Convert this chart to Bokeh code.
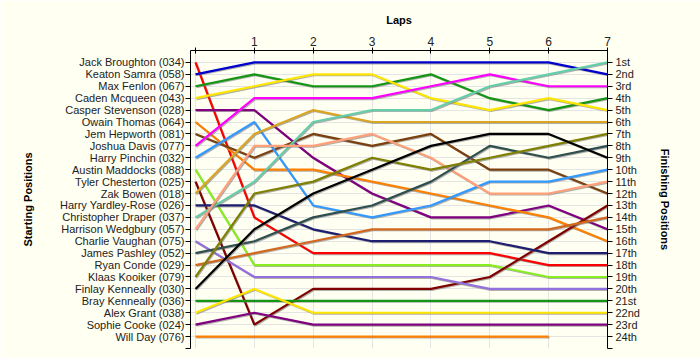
import math
from bokeh.plotting import figure
from bokeh.models import FixedTicker, LinearAxis, Range1d
from bokeh.embed import file_html
from bokeh.resources import INLINE

laps = [0, 1, 2, 3, 4, 5, 6, 7]
lap_labels = {0: "", 1: "1", 2: "2", 3: "3", 4: "4", 5: "5", 6: "6", 7: "7"}

drivers = [
    "Jack Broughton (034)", "Keaton Samra (058)", "Max Fenlon (067)", "Caden Mcqueen (043)",
    "Casper Stevenson (028)", "Owain Thomas (064)", "Jem Hepworth (081)", "Joshua Davis (077)",
    "Harry Pinchin (032)", "Austin Maddocks (088)", "Tyler Chesterton (025)", "Zak Bowen (018)",
    "Harry Yardley-Rose (026)", "Christopher Draper (037)", "Harrison Wedgbury (057)",
    "Charlie Vaughan (075)", "James Pashley (052)", "Ryan Conde (029)", "Klaas Kooiker (079)",
    "Finlay Kenneally (030)", "Bray Kenneally (036)", "Alex Grant (038)", "Sophie Cooke (024)",
    "Will Day (076)",
]

finish_labels = ["1st", "2nd", "3rd", "4th", "5th", "6th", "7th", "8th", "9th", "10th",
                 "11th", "12th", "13th", "14th", "15th", "16th", "17th", "18th", "19th",
                 "20th", "21st", "22nd", "23rd", "24th"]

# positions at lap 0 (start) .. lap 7 ; None = did not finish the lap
jack_broughton = [1, 14, 17, 17, 17, 17, 18, 18]
keaton_samra = [2, 1, 1, 1, 1, 1, 1, 2]
max_fenlon = [3, 2, 3, 3, 2, 4, 5, 4]
caden_mcqueen = [4, 3, 2, 2, 4, 5, 4, 5]
casper_stevenson = [5, 5, 9, 12, 14, 14, 13, 15]
owain_thomas = [6, 10, 10, 11, 12, 13, 14, 16]
jem_hepworth = [7, 9, 7, 8, 7, 10, 10, 12]
joshua_davis = [8, 4, 4, 4, 3, 2, 3, 3]
harry_pinchin = [9, 6, 13, 14, 13, 11, 11, 10]
austin_maddocks = [10, 18, 18, 18, 18, 18, 19, 19]
tyler_chesterton = [11, 23, 20, 20, 20, 19, 16, 13]
zak_bowen = [12, 7, 5, 6, 6, 6, 6, 6]
harry_yardley_rose = [13, 13, 15, 16, 16, 16, 17, 17]
christopher_draper = [14, 11, 6, 5, 5, 3, 2, 1]
harrison_wedgbury = [15, 8, 8, 7, 9, 12, 12, 11]
charlie_vaughan = [16, 19, 19, 19, 19, 20, 20, 20]
james_pashley = [17, 16, 14, 13, 11, 8, 9, 8]
ryan_conde = [18, 17, 16, 15, 15, 15, 15, 14]
klaas_kooiker = [19, 12, 11, 9, 10, 9, 8, 7]
finlay_kenneally = [20, 15, 12, 10, 8, 7, 7, 9]
bray_kenneally = [21, 21, 21, 21, 21, 21, 21, 21]
alex_grant = [22, 20, 22, 22, 22, 22, 22, 22]
sophie_cooke = [23, 22, 23, 23, 23, 23, 23, 23]
will_day = [24, 24, 24, 24, 24, 24, 24, None]

series = [jack_broughton, keaton_samra, max_fenlon, caden_mcqueen, casper_stevenson,
          owain_thomas, jem_hepworth, joshua_davis, harry_pinchin, austin_maddocks,
          tyler_chesterton, zak_bowen, harry_yardley_rose, christopher_draper,
          harrison_wedgbury, charlie_vaughan, james_pashley, ryan_conde, klaas_kooiker,
          finlay_kenneally, bray_kenneally, alex_grant, sophie_cooke, will_day]

colors = ["#ff0000", "#0000cc", "#149614", "#ffe600", "#800080", "#ff8000", "#7a4010",
          "#ff00ff", "#3399ff", "#88ee22", "#800000", "#daa520", "#1e1e70", "#66cdaa",
          "#ffa07a", "#9370db", "#2f4f4f", "#d2691e", "#808000", "#000000",
          "#149614", "#ffe600", "#800080", "#ff8000"]

BG = "#fffff2"
FONT = "Liberation Sans"

p = figure(width=700, height=358,
           x_range=Range1d(-0.085, 7), y_range=Range1d(25, 0),
           x_axis_location="above", y_axis_location="left",
           output_backend="svg", toolbar_location=None,
           min_border_left=190, min_border_right=93,
           min_border_top=50, min_border_bottom=10)
p.background_fill_color = BG
p.border_fill_color = BG
p.outline_line_color = None

# grid
p.xgrid.ticker = FixedTicker(ticks=laps)
p.ygrid.ticker = FixedTicker(ticks=list(range(1, 25)))
p.xgrid.grid_line_color = "#e4e4e4"
p.ygrid.grid_line_color = "#e4e4e4"

# top axis (laps)
xa = p.xaxis[0]
xa.ticker = FixedTicker(ticks=laps)
xa.major_label_overrides = lap_labels
xa.axis_label = "Laps"
xa.axis_label_text_font = FONT
xa.axis_label_text_font_style = "bold"
xa.axis_label_text_font_size = "11px"
xa.axis_label_text_color = "#000000"
xa.axis_label_standoff = 8
xa.major_label_text_font = FONT
xa.major_label_text_font_size = "12px"
xa.major_label_text_color = "#222222"
xa.major_label_standoff = 2
xa.major_tick_in = 3
xa.major_tick_out = 3
xa.minor_tick_line_color = None
xa.axis_line_color = "#000000"
xa.major_tick_line_color = "#000000"

# left axis (starting positions)
ya = p.yaxis[0]
ya.ticker = FixedTicker(ticks=list(range(1, 26)))
ya.major_label_overrides = {i + 1: drivers[i] for i in range(24)} | {25: ""}
ya.axis_label = "Starting Positions"
ya.axis_label_text_font = FONT
ya.axis_label_text_font_style = "bold"
ya.axis_label_text_font_size = "11px"
ya.axis_label_text_color = "#000000"
ya.axis_label_standoff = 23
ya.major_label_text_font = FONT
ya.major_label_text_font_size = "11px"
ya.major_label_text_color = "#222222"
ya.major_label_standoff = 1
ya.major_tick_in = 0
ya.major_tick_out = 5
ya.minor_tick_line_color = None
ya.axis_line_color = "#000000"
ya.major_tick_line_color = "#000000"

# right axis (finishing positions)
ra = LinearAxis(ticker=FixedTicker(ticks=list(range(1, 26))))
ra.major_label_overrides = {i + 1: finish_labels[i] for i in range(24)} | {25: ""}
ra.axis_label = "Finishing Positions"
ra.axis_label_text_font = FONT
ra.axis_label_text_font_style = "bold"
ra.axis_label_text_font_size = "11px"
ra.axis_label_text_color = "#000000"
ra.axis_label_standoff = 16
ra.major_label_text_font = FONT
ra.major_label_text_font_size = "11px"
ra.major_label_text_color = "#222222"
ra.major_label_standoff = 3
ra.major_tick_in = 0
ra.major_tick_out = 5
ra.minor_tick_line_color = None
ra.axis_line_color = "#000000"
ra.major_tick_line_color = "#000000"
p.add_layout(ra, "right")

# shadow offset: ~1px right / 1px down in data units
sdx = 1.0 / 58.9
sdy = 1.0 / 11.93

for vals, col in zip(series, colors):
    ys = [float("nan") if v is None else float(v) for v in vals]
    sx = [x + sdx for x in laps]
    sy = [y + sdy for y in ys]
    p.line(sx, sy, line_color="#707070", line_alpha=0.55, line_width=2)
    p.line(laps, ys, line_color=col, line_width=2.2)

open("out.html", "w").write(file_html(p, INLINE))
